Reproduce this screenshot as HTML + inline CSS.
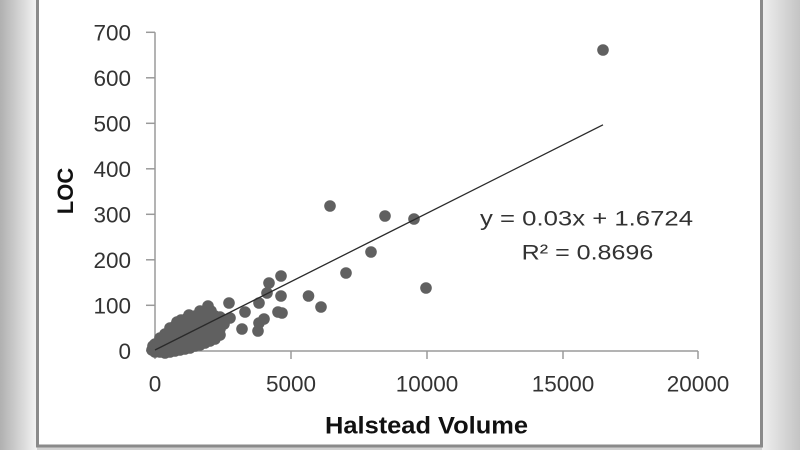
<!DOCTYPE html>
<html>
<head>
<meta charset="utf-8">
<style>
  html, body { margin:0; padding:0; }
  body { width:800px; height:450px; overflow:hidden; position:relative; background:#d0d0d0; }
  .lg { position:absolute; left:0; top:0; width:37px; height:450px; background:linear-gradient(to right,#b0b0b0,#f3f3f3); }
  .rg { position:absolute; left:762px; top:0; width:38px; height:450px; background:linear-gradient(to right,#efefef,#c4c4c4); }
  svg { position:absolute; left:0; top:0; }
  text { font-family:"Liberation Sans", Arial, sans-serif; }
</style>
</head>
<body>
<div class="lg"></div>
<div class="rg"></div>
<svg width="800" height="450" viewBox="0 0 800 450" xmlns="http://www.w3.org/2000/svg">
  <rect x="37.5" y="-2" width="724" height="448" fill="#ffffff" stroke="#8a8a8a" stroke-width="3"/>

  <!-- axes -->
  <g stroke="#9a9a9a" stroke-width="1.5" fill="none">
    <line x1="155" y1="32.3" x2="155" y2="351"/>
    <line x1="155" y1="351" x2="698" y2="351"/>
    <line x1="146" y1="32.3" x2="155" y2="32.3"/>
    <line x1="146" y1="77.8" x2="155" y2="77.8"/>
    <line x1="146" y1="123.3" x2="155" y2="123.3"/>
    <line x1="146" y1="168.8" x2="155" y2="168.8"/>
    <line x1="146" y1="214.3" x2="155" y2="214.3"/>
    <line x1="146" y1="259.8" x2="155" y2="259.8"/>
    <line x1="146" y1="305.3" x2="155" y2="305.3"/>
    <line x1="146" y1="350.8" x2="155" y2="350.8"/>
    <line x1="155" y1="351" x2="155" y2="359"/>
    <line x1="291" y1="351" x2="291" y2="359"/>
    <line x1="427" y1="351" x2="427" y2="359"/>
    <line x1="563" y1="351" x2="563" y2="359"/>
    <line x1="698" y1="351" x2="698" y2="359"/>
  </g>

  <!-- y tick labels -->
  <g font-size="22.5" fill="#333" text-anchor="end">
    <text x="131" y="40.3">700</text>
    <text x="131" y="85.8">600</text>
    <text x="131" y="131.3">500</text>
    <text x="131" y="176.8">400</text>
    <text x="131" y="222.3">300</text>
    <text x="131" y="267.8">200</text>
    <text x="131" y="313.3">100</text>
    <text x="131" y="358.8">0</text>
  </g>
  <!-- x tick labels -->
  <g font-size="22.5" fill="#333" text-anchor="middle">
    <text x="155" y="391.5">0</text>
    <text x="291" y="391.5">5000</text>
    <text x="427" y="391.5">10000</text>
    <text x="563" y="391.5">15000</text>
    <text x="698" y="391.5">20000</text>
  </g>

  <!-- axis titles -->
  <text x="325" y="433.5" font-size="24" font-weight="bold" fill="#111" textLength="203" lengthAdjust="spacingAndGlyphs">Halstead Volume</text>
  <text transform="translate(73,191) rotate(-90)" text-anchor="middle" font-size="22" font-weight="bold" fill="#111">LOC</text>

  <!-- scatter -->
  <g fill="#606060">
    <circle cx="152" cy="350" r="5.8"/><circle cx="153" cy="346" r="5.8"/>
    <circle cx="155" cy="348" r="5.8"/><circle cx="155" cy="352" r="5.8"/><circle cx="155" cy="344" r="5.8"/>
    <circle cx="160" cy="352" r="5.8"/><circle cx="160" cy="347" r="5.8"/><circle cx="160" cy="342" r="5.8"/><circle cx="160" cy="338" r="5.8"/>
    <circle cx="165" cy="353" r="5.8"/><circle cx="165" cy="348" r="5.8"/><circle cx="165" cy="343" r="5.8"/><circle cx="165" cy="338" r="5.8"/><circle cx="165" cy="334" r="5.8"/>
    <circle cx="170" cy="352" r="5.8"/><circle cx="170" cy="347" r="5.8"/><circle cx="170" cy="342" r="5.8"/><circle cx="170" cy="337" r="5.8"/><circle cx="170" cy="332" r="5.8"/><circle cx="170" cy="328" r="5.8"/>
    <circle cx="175" cy="351" r="5.8"/><circle cx="175" cy="346" r="5.8"/><circle cx="175" cy="341" r="5.8"/><circle cx="175" cy="336" r="5.8"/><circle cx="175" cy="331" r="5.8"/><circle cx="175" cy="326" r="5.8"/><circle cx="177" cy="322" r="5.8"/>
    <circle cx="180" cy="350" r="5.8"/><circle cx="180" cy="345" r="5.8"/><circle cx="180" cy="340" r="5.8"/><circle cx="180" cy="335" r="5.8"/><circle cx="180" cy="330" r="5.8"/><circle cx="180" cy="325" r="5.8"/><circle cx="181" cy="320" r="5.8"/>
    <circle cx="185" cy="349" r="5.8"/><circle cx="185" cy="344" r="5.8"/><circle cx="185" cy="339" r="5.8"/><circle cx="185" cy="334" r="5.8"/><circle cx="185" cy="329" r="5.8"/><circle cx="185" cy="324" r="5.8"/><circle cx="186" cy="319" r="5.8"/>
    <circle cx="190" cy="348" r="5.8"/><circle cx="190" cy="343" r="5.8"/><circle cx="190" cy="338" r="5.8"/><circle cx="190" cy="333" r="5.8"/><circle cx="190" cy="328" r="5.8"/><circle cx="190" cy="323" r="5.8"/><circle cx="190" cy="318" r="5.8"/><circle cx="189" cy="315" r="5.8"/>
    <circle cx="195" cy="346" r="5.8"/><circle cx="195" cy="341" r="5.8"/><circle cx="195" cy="336" r="5.8"/><circle cx="195" cy="331" r="5.8"/><circle cx="195" cy="326" r="5.8"/><circle cx="195" cy="321" r="5.8"/><circle cx="195" cy="316" r="5.8"/>
    <circle cx="200" cy="345" r="5.8"/><circle cx="200" cy="340" r="5.8"/><circle cx="200" cy="335" r="5.8"/><circle cx="200" cy="330" r="5.8"/><circle cx="200" cy="325" r="5.8"/><circle cx="200" cy="320" r="5.8"/><circle cx="200" cy="315" r="5.8"/><circle cx="200" cy="311" r="5.8"/>
    <circle cx="205" cy="343" r="5.8"/><circle cx="205" cy="338" r="5.8"/><circle cx="205" cy="333" r="5.8"/><circle cx="205" cy="328" r="5.8"/><circle cx="205" cy="323" r="5.8"/><circle cx="205" cy="318" r="5.8"/><circle cx="205" cy="313" r="5.8"/><circle cx="208" cy="306" r="5.8"/>
    <circle cx="210" cy="341" r="5.8"/><circle cx="210" cy="336" r="5.8"/><circle cx="210" cy="331" r="5.8"/><circle cx="210" cy="326" r="5.8"/><circle cx="210" cy="321" r="5.8"/><circle cx="210" cy="316" r="5.8"/><circle cx="211" cy="311" r="5.8"/>
    <circle cx="215" cy="339" r="5.8"/><circle cx="215" cy="333" r="5.8"/><circle cx="215" cy="327" r="5.8"/><circle cx="215" cy="321" r="5.8"/><circle cx="215" cy="316" r="5.8"/>
    <circle cx="220" cy="335" r="5.8"/><circle cx="220" cy="329" r="5.8"/><circle cx="220" cy="323" r="5.8"/><circle cx="220" cy="317" r="5.8"/>
    <circle cx="224" cy="324" r="5.8"/>
    <circle cx="229" cy="303" r="5.8"/><circle cx="230" cy="318" r="5.8"/><circle cx="242" cy="329" r="5.8"/><circle cx="245" cy="312" r="5.8"/>
    <circle cx="259" cy="303" r="5.8"/><circle cx="259" cy="323" r="5.8"/><circle cx="258" cy="331" r="5.8"/><circle cx="264" cy="319" r="5.8"/>
    <circle cx="278" cy="312" r="5.8"/><circle cx="282" cy="313" r="5.8"/>
    <circle cx="267" cy="293" r="5.8"/><circle cx="269" cy="283" r="5.8"/><circle cx="281" cy="276" r="5.8"/><circle cx="281" cy="296" r="5.8"/>
    <circle cx="308.5" cy="296" r="5.8"/><circle cx="321" cy="307" r="5.8"/>
    <circle cx="330" cy="206" r="5.8"/><circle cx="385" cy="216" r="5.8"/><circle cx="414" cy="219" r="5.8"/>
    <circle cx="371" cy="252" r="5.8"/><circle cx="346" cy="273" r="5.8"/><circle cx="426" cy="288" r="5.8"/>
    <circle cx="603" cy="50" r="5.8"/>
  </g>

  <!-- trendline -->
  <line x1="155" y1="350" x2="603" y2="124.8" stroke="#2a2a2a" stroke-width="1.3"/>

  <!-- equation -->
  <g font-size="21" fill="#333">
    <text x="480" y="225.7" textLength="213" lengthAdjust="spacingAndGlyphs">y = 0.03x + 1.6724</text>
    <text x="521.7" y="259.5" textLength="131.6" lengthAdjust="spacingAndGlyphs">R² = 0.8696</text>
  </g>
</svg>
</body>
</html>
